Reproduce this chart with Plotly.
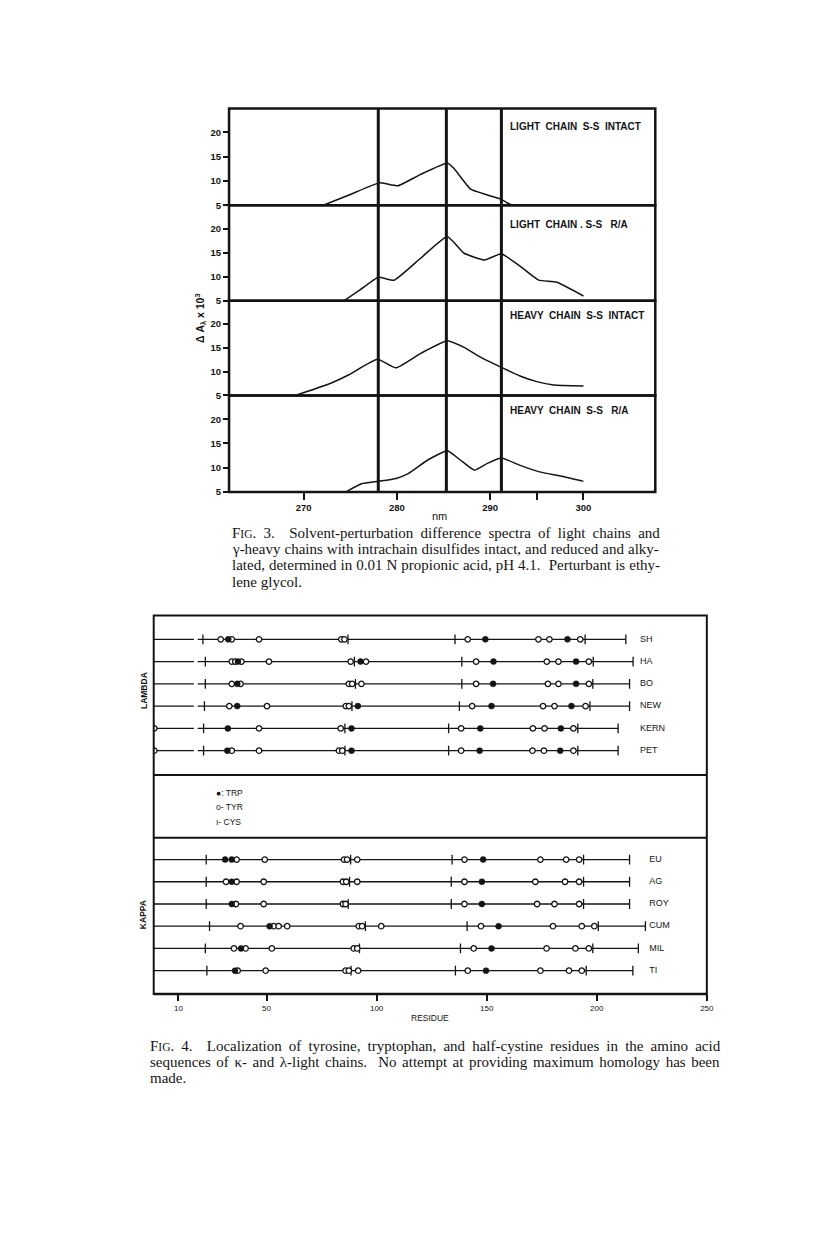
import plotly.graph_objects as go

# The page body has a margin, so the figure is drawn smaller and every
# reference pixel position is shifted to compensate.
W, H = 800, 1241
OFF_X, OFF_Y = 6, 5


def px(x):
    return (x - OFF_X) / W


def py(y):
    return 1 - (y - OFF_Y) / H


# ---------------- Fig. 3 data (nm, delta A x 10^3) ----------------
NM_LIGHT_INTACT = [272.1, 275.0, 278.1, 280.1, 282.5, 285.4, 286.1, 287.9, 289.7, 291.2, 291.8, 292.3]
DA_LIGHT_INTACT = [5.0, 7.2, 9.6, 9.0, 11.3, 13.7, 12.6, 8.3, 7.1, 6.2, 5.5, 5.1]

NM_LIGHT_RA = [274.3, 276.0, 278.0, 279.7, 282.5, 285.4, 287.2, 289.4, 291.2, 293.2, 295.2, 297.1, 300.0]
DA_LIGHT_RA = [5.0, 7.2, 9.9, 9.3, 13.8, 18.4, 14.9, 13.5, 14.8, 12.2, 9.3, 8.9, 6.0]

NM_HEAVY_INTACT = [269.1, 272.7, 274.8, 277.9, 279.9, 282.6, 285.4, 287.2, 289.0, 291.2, 293.2, 295.0, 296.8, 300.0]
DA_HEAVY_INTACT = [5.0, 7.4, 9.3, 12.6, 10.8, 13.9, 16.5, 15.1, 13.0, 10.9, 9.1, 7.9, 7.2, 7.0]

NM_HEAVY_RA = [274.5, 276.2, 278.0, 279.9, 281.2, 283.3, 285.4, 286.8, 288.3, 289.7, 291.2, 293.2, 295.4, 297.8, 300.0]
DA_HEAVY_RA = [5.0, 6.7, 7.2, 7.8, 8.8, 11.6, 13.5, 11.6, 9.5, 10.9, 12.0, 10.5, 9.1, 8.2, 7.2]

PANEL_LABELS = ["LIGHT  CHAIN  S-S  INTACT", "LIGHT  CHAIN . S-S   R/A",
                "HEAVY  CHAIN  S-S  INTACT", "HEAVY  CHAIN  S-S   R/A"]
REF_WAVELENGTHS = [278.0, 285.3, 291.2]
NM_TICKS = [270, 280, 290, 300]
NM_MINOR_TICKS = [295]
DA_TICKS = [5, 10, 15, 20]

# ---------------- Fig. 4 data (residue numbers) ----------------
LAMBDA_CHAINS = ["SH", "HA", "BO", "NEW", "KERN", "PET"]
LAMBDA_CYS = {
    "SH": [21.1, 87.0, 135.6, 194.7, 213.2],
    "HA": [22.2, 89.9, 138.7, 198.4, 216.5],
    "BO": [22.2, 90.4, 138.7, 198.2, 214.9],
    "NEW": [21.8, 88.8, 137.6, 196.9, 214.9],
    "KERN": [21.4, 85.6, 132.7, 191.4, 209.7],
    "PET": [21.4, 85.6, 132.7, 191.4, 209.7],
}
LAMBDA_TRP = {
    "SH": [32.6, 149.4, 186.7],
    "HA": [37.0, 92.7, 153.1, 190.6],
    "BO": [36.7, 152.9, 190.6],
    "NEW": [36.7, 91.5, 152.2, 188.5],
    "KERN": [32.4, 88.6, 147.1, 183.7],
    "PET": [32.2, 88.6, 146.8, 183.4],
}
LAMBDA_TYR = {
    "SH": [29.2, 34.2, 46.6, 84.0, 85.4, 141.4, 173.5, 178.5, 192.5],
    "HA": [34.2, 35.8, 38.6, 51.1, 88.2, 95.2, 145.2, 177.3, 182.6, 196.4],
    "BO": [34.2, 38.2, 87.4, 88.9, 93.1, 145.2, 177.8, 182.6, 196.4],
    "NEW": [33.1, 50.2, 86.0, 87.4, 143.4, 175.6, 180.8, 194.9],
    "KERN": [-1.0, 46.6, 83.7, 138.4, 171.0, 176.3, 189.4],
    "PET": [-1.0, 34.2, 46.6, 82.9, 84.4, 138.4, 170.8, 176.0, 189.4],
}
LAMBDA_GAP = [17.0, 18.7]

KAPPA_CHAINS = ["EU", "AG", "ROY", "CUM", "MIL", "TI"]
KAPPA_CYS = {
    "EU": [22.6, 88.2, 134.3, 194.0, 214.9],
    "AG": [22.6, 87.7, 133.9, 194.0, 214.9],
    "ROY": [22.6, 87.1, 133.9, 194.0, 214.9],
    "CUM": [24.1, 94.9, 141.1, 200.7, 222.1],
    "MIL": [22.2, 92.2, 138.1, 198.2, 218.9],
    "TI": [22.9, 88.4, 135.8, 195.2, 216.4],
}
KAPPA_TRP = {
    "EU": [31.2, 34.2, 148.4],
    "AG": [34.2, 147.8],
    "ROY": [34.2, 147.8],
    "CUM": [51.4, 155.4],
    "MIL": [38.4, 152.2],
    "TI": [35.7, 149.7],
}
KAPPA_TYR = {
    "EU": [36.4, 49.2, 85.2, 86.6, 91.2, 139.9, 174.4, 186.1, 192.0],
    "AG": [31.6, 36.4, 48.7, 84.7, 86.2, 91.2, 139.9, 172.1, 185.6, 192.0],
    "ROY": [36.1, 48.7, 84.7, 85.9, 139.9, 172.9, 180.8, 192.0],
    "CUM": [38.2, 53.3, 55.5, 59.4, 91.9, 93.4, 102.1, 147.4, 180.1, 193.2, 198.9],
    "MIL": [35.2, 40.5, 52.4, 89.6, 91.2, 144.1, 177.2, 190.3, 196.4],
    "TI": [36.9, 49.6, 85.9, 87.4, 91.6, 141.4, 174.4, 187.4, 193.2],
}
RESIDUE_TICKS = [10, 50, 100, 150, 200, 250]
RES_MIN, RES_MAX = -1.25, 250

INK = "#141414"
SANS = "Liberation Sans"
SERIF = "Liberation Serif"

fig = go.Figure()

# ---------------- Fig. 3 traces ----------------
panels = [(NM_LIGHT_INTACT, DA_LIGHT_INTACT), (NM_LIGHT_RA, DA_LIGHT_RA),
          (NM_HEAVY_INTACT, DA_HEAVY_INTACT), (NM_HEAVY_RA, DA_HEAVY_RA)]
for i, (xs, ys) in enumerate(panels):
    fig.add_trace(go.Scatter(x=xs, y=ys, mode="lines", xaxis="x", yaxis="y" if i == 0 else f"y{i+1}",
                             line=dict(color=INK, width=1.5, shape="spline", smoothing=0.4),
                             hoverinfo="skip"))

edges = [106, 203, 299, 394, 491]
tickfont3 = dict(size=9.5, color=INK, family=SANS, weight="bold")
layout_axes = {}
layout_axes["xaxis"] = dict(domain=[px(229), px(659)], range=[262, 307.7], anchor="y4",
                            showgrid=False, zeroline=False, showline=False,
                            ticks="outside", ticklen=7, tickwidth=2, tickcolor=INK,
                            tickvals=NM_TICKS, tickfont=tickfont3,
                            minor=dict(tickvals=NM_MINOR_TICKS, ticks="outside", ticklen=7,
                                       tickwidth=2, tickcolor=INK, showgrid=False))
for i in range(4):
    name = "yaxis" if i == 0 else f"yaxis{i+1}"
    layout_axes[name] = dict(domain=[py(edges[i + 1]), py(edges[i])], range=[5, 24.9], anchor="x",
                             showgrid=False, zeroline=False, showline=False,
                             ticks="outside", ticklen=5, tickwidth=2, tickcolor=INK,
                             tickvals=DA_TICKS, tickfont=tickfont3)


# ---------------- Fig. 4 traces ----------------
def add_group(chains, cys, trp, tyr, yax, gap):
    for c in chains:
        end = cys[c][-1]
        if gap:
            xs = [RES_MIN, gap[0], None, gap[1], end]
            ys = [c, c, None, c, c]
        else:
            xs = [RES_MIN, end]
            ys = [c, c]
        fig.add_trace(go.Scatter(x=xs, y=ys, mode="lines", xaxis="x2", yaxis=yax,
                                 line=dict(color=INK, width=1.3), hoverinfo="skip"))
    cx, cy, wx, wy, tx, ty = [], [], [], [], [], []
    for c in chains:
        cx += cys[c]; cy += [c] * len(cys[c])
        wx += trp[c]; wy += [c] * len(trp[c])
        tx += tyr[c]; ty += [c] * len(tyr[c])
    fig.add_trace(go.Scatter(x=cx, y=cy, mode="markers", xaxis="x2", yaxis=yax,
                             marker=dict(symbol="line-ns", size=7, line=dict(color=INK, width=1.3)),
                             hoverinfo="skip"))
    fig.add_trace(go.Scatter(x=tx, y=ty, mode="markers", xaxis="x2", yaxis=yax,
                             marker=dict(symbol="circle", size=5.5, color="white",
                                         line=dict(color=INK, width=1.3)),
                             hoverinfo="skip"))
    fig.add_trace(go.Scatter(x=wx, y=wy, mode="markers", xaxis="x2", yaxis=yax,
                             marker=dict(symbol="circle", size=6, color=INK,
                                         line=dict(color=INK, width=0.5)),
                             hoverinfo="skip"))


add_group(LAMBDA_CHAINS, LAMBDA_CYS, LAMBDA_TRP, LAMBDA_TYR, "y6", LAMBDA_GAP)
add_group(KAPPA_CHAINS, KAPPA_CYS, KAPPA_TRP, KAPPA_TYR, "y5", None)

namefont = dict(size=9, color=INK, family=SANS)
fig.add_trace(go.Scatter(x=[219.6] * len(LAMBDA_CHAINS), y=LAMBDA_CHAINS, text=LAMBDA_CHAINS,
                         mode="text", textposition="middle right", xaxis="x2", yaxis="y6",
                         textfont=namefont, cliponaxis=False, hoverinfo="skip"))
fig.add_trace(go.Scatter(x=[223.8] * len(KAPPA_CHAINS), y=KAPPA_CHAINS, text=KAPPA_CHAINS,
                         mode="text", textposition="middle right", xaxis="x2", yaxis="y5",
                         textfont=namefont, cliponaxis=False, hoverinfo="skip"))

layout_axes["xaxis2"] = dict(domain=[px(153), px(711)], range=[RES_MIN, RES_MAX], anchor="y5",
                             showgrid=False, zeroline=False, showline=False,
                             ticks="outside", ticklen=6, tickwidth=1.5, tickcolor=INK,
                             tickvals=RESIDUE_TICKS, tickfont=dict(size=8, color=INK, family=SANS))
layout_axes["yaxis5"] = dict(domain=[py(995), py(838)], type="category", categoryorder="array",
                             categoryarray=KAPPA_CHAINS, range=[6.05, -0.985], anchor="x2",
                             showgrid=False, zeroline=False, showline=False, showticklabels=False, ticks="")
layout_axes["yaxis6"] = dict(domain=[py(775), py(615)], type="category", categoryorder="array",
                             categoryarray=LAMBDA_CHAINS, range=[6.09, -1.07], anchor="x2",
                             showgrid=False, zeroline=False, showline=False, showticklabels=False, ticks="")

# ---------------- shapes ----------------
shapes = []
for i in range(4):
    shapes.append(dict(type="rect", xref="paper", yref="paper", x0=px(229), x1=px(659),
                       y0=py(edges[i + 1]), y1=py(edges[i]), line=dict(color=INK, width=2.5)))
for wl in REF_WAVELENGTHS:
    shapes.append(dict(type="line", xref="x", yref="paper", x0=wl, x1=wl, y0=py(491), y1=py(106),
                       line=dict(color=INK, width=3)))
shapes.append(dict(type="rect", xref="paper", yref="paper", x0=px(153), x1=px(711), y0=py(995), y1=py(615),
                   line=dict(color=INK, width=2)))
for yy in (775, 838):
    shapes.append(dict(type="line", xref="paper", yref="paper", x0=px(153), x1=px(711), y0=py(yy), y1=py(yy),
                       line=dict(color=INK, width=2)))
shapes.append(dict(type="line", xref="paper", yref="paper", x0=px(153), x1=px(711), y0=py(995), y1=py(995),
                   line=dict(color=INK, width=2.5)))

# ---------------- annotations ----------------
ann = []
label_y = [124, 222, 314, 409]
for lab, yy in zip(PANEL_LABELS, label_y):
    ann.append(dict(text=lab, x=px(510), y=py(yy), xref="paper", yref="paper", xanchor="left",
                    yanchor="middle", showarrow=False,
                    font=dict(size=10, color=INK, family=SANS, weight="bold")))
ann.append(dict(text="Δ A<sub>λ</sub> x 10<sup>3</sup>", x=px(200), y=py(316), xref="paper", yref="paper",
                xanchor="center", yanchor="middle", textangle=-90, showarrow=False,
                font=dict(size=10.5, color=INK, family=SANS, weight="bold")))
ann.append(dict(text="nm", x=px(441), y=py(515), xref="paper", yref="paper", showarrow=False,
                xanchor="center", yanchor="middle", font=dict(size=11, color=INK, family=SANS)))

SC = "<span style='font-size:11.5px'>IG</span>"


def caption_line(text, spacing):
    return f"<span style='word-spacing:{spacing}px'>{text}</span>"


cap3 = [
    (f"F{SC}. 3.  Solvent-perturbation difference spectra of light chains and", 3.5),
    ("γ-heavy chains with intrachain disulfides intact, and reduced and alky-", 0.3),
    ("lated, determined in 0.01 N propionic acid, pH 4.1.  Perturbant is ethy-", 0.3),
    ("lene glycol.", 0),
]
for k, (line, sp) in enumerate(cap3):
    ann.append(dict(text=caption_line(line, sp), x=px(230), y=py(532 + 16.3 * k), xref="paper", yref="paper",
                    xanchor="left", yanchor="middle", showarrow=False,
                    font=dict(size=15, color=INK, family=SERIF)))
cap4 = [
    (f"F{SC}. 4.  Localization of tyrosine, tryptophan, and half-cystine residues in the amino acid", 3.35),
    ("sequences of κ- and λ-light chains.  No attempt at providing maximum homology has been", 1.8),
    ("made.", 0),
]
for k, (line, sp) in enumerate(cap4):
    ann.append(dict(text=caption_line(line, sp), x=px(147), y=py(1047 + 16 * k), xref="paper", yref="paper",
                    xanchor="left", yanchor="middle", showarrow=False,
                    font=dict(size=15, color=INK, family=SERIF)))

ann.append(dict(text="LAMBDA", x=px(143), y=py(690), xref="paper", yref="paper", textangle=-90,
                xanchor="center", yanchor="middle", showarrow=False,
                font=dict(size=8.5, color=INK, family=SANS, weight="bold")))
ann.append(dict(text="KAPPA", x=px(143), y=py(915), xref="paper", yref="paper", textangle=-90,
                xanchor="center", yanchor="middle", showarrow=False,
                font=dict(size=8.5, color=INK, family=SANS, weight="bold")))
ann.append(dict(text="RESIDUE", x=px(432), y=py(1019), xref="paper", yref="paper", showarrow=False,
                xanchor="center", yanchor="middle", font=dict(size=8.5, color=INK, family=SANS)))
for k, t in enumerate(["●: TRP", "o- TYR", "ı- CYS"]):
    ann.append(dict(text=t, x=px(214), y=py(793 + 14.5 * k), xref="paper", yref="paper", xanchor="left",
                    yanchor="middle", showarrow=False, font=dict(size=8.5, color=INK, family=SANS)))

fig.update_layout(width=W, height=H, autosize=False, margin=dict(l=0, r=0, t=0, b=0),
                  paper_bgcolor="white", plot_bgcolor="rgba(0,0,0,0)", showlegend=False,
                  shapes=shapes, annotations=ann, **layout_axes)

fig.write_html("out.html")
